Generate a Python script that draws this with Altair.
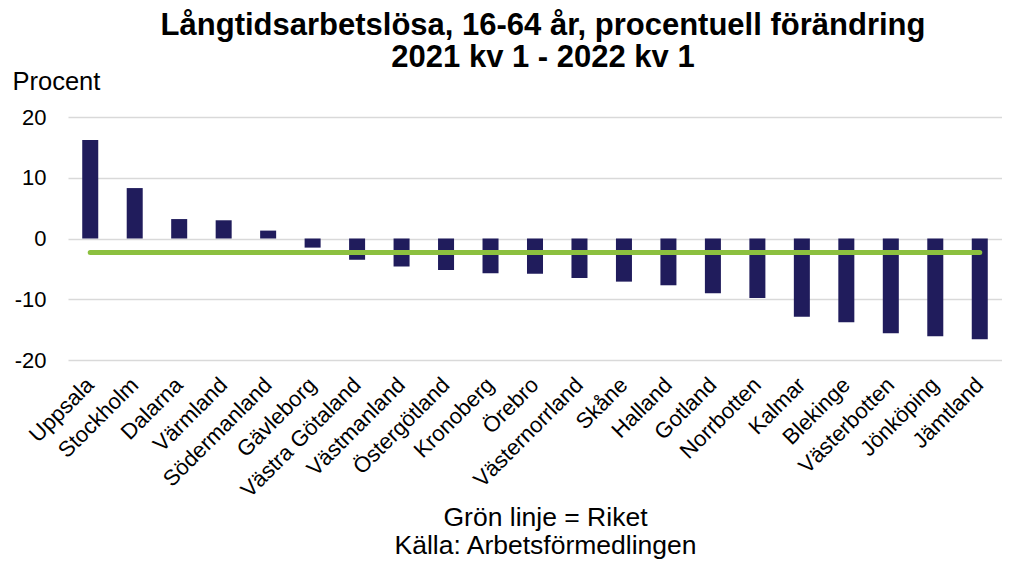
import altair as alt
import pandas as pd

counties = ["Uppsala", "Stockholm", "Dalarna", "Värmland", "Södermanland", "Gävleborg",
            "Västra Götaland", "Västmanland", "Östergötland", "Kronoberg", "Örebro",
            "Västernorrland", "Skåne", "Halland", "Gotland", "Norrbotten", "Kalmar",
            "Blekinge", "Västerbotten", "Jönköping", "Jämtland"]
values = [16.2, 8.3, 3.2, 3.0, 1.3, -1.5, -3.5, -4.6, -5.2, -5.7, -5.8, -6.5, -7.1,
          -7.7, -9.0, -9.8, -12.9, -13.8, -15.6, -16.1, -16.6]
riket = -2.3
y_ticks = [-20, -10, 0, 10, 20]

df = pd.DataFrame({"Län": counties, "Förändring": values})
df_riket = pd.DataFrame({"Län": [counties[0], counties[-1]], "Riket": [riket, riket]})

FONT = "Liberation Sans"

x_enc = alt.X("Län:N", sort=counties,
              scale=alt.Scale(paddingInner=0.64, paddingOuter=0.32),
              axis=alt.Axis(labelAngle=-45, labelAlign="right", labelBaseline="middle",
                            labelFontSize=22, labelColor="#000000", labelPadding=21,
                            ticks=False, domain=False, labelFont=FONT,
                            title=["Grön linje = Riket", "Källa: Arbetsförmedlingen"],
                            titleFont=FONT, titleFontSize=26.5, titleFontWeight="normal",
                            titleColor="#000000", titleLineHeight=28,
                            titleAlign="center", titleBaseline="alphabetic",
                            titleX=477, titleY=165))

bars = alt.Chart(df).mark_bar(color="#201C5C").encode(
    x=x_enc,
    y=alt.Y("Förändring:Q",
            scale=alt.Scale(domain=[-20, 20], nice=False),
            axis=alt.Axis(values=y_ticks, labelExpr="datum.value + ''",
                          labelFontSize=22, labelColor="#000000", labelFont=FONT,
                          labelPadding=22, ticks=False, domain=False,
                          gridColor="#D9D9D9", gridWidth=1.5,
                          title="Procent", titleAngle=0, titleAlign="left",
                          titleBaseline="alphabetic", titleX=-56, titleY=-28,
                          titleFont=FONT, titleFontSize=25.5, titleFontWeight="normal",
                          titleColor="#000000")),
)

line = alt.Chart(df_riket).mark_line(color="#8CC03F", strokeWidth=5, strokeCap="round").encode(
    x=alt.X("Län:N", sort=counties),
    y=alt.Y("Riket:Q"),
)

chart = alt.layer(bars, line).properties(
    width=934, height=243,
    title=alt.TitleParams(["Långtidsarbetslösa, 16-64 år, procentuell förändring",
                           "2021 kv 1 - 2022 kv 1"],
                          font=FONT, fontSize=31, fontWeight="bold", color="#000000",
                          anchor="middle", dx=8, dy=5, lineHeight=32, offset=0),
    autosize=alt.AutoSizeParams(type="none"),
    padding={"left": 60, "top": 109, "right": 0, "bottom": 200},
).configure_view(stroke=None)

chart.save("out.html", embed_options={"renderer": "svg", "actions": False})
